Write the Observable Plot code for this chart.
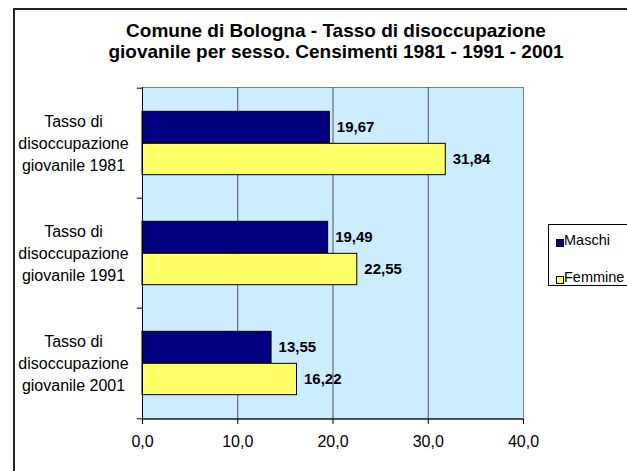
<!DOCTYPE html>
<html>
<head>
<meta charset="utf-8">
<script src="https://cdn.jsdelivr.net/npm/d3@7"></script>
<script src="https://cdn.jsdelivr.net/npm/@observablehq/plot@0.6"></script>
<style>
  html, body { margin: 0; padding: 0; width: 627px; height: 471px; overflow: hidden; background: #fff; font-family: "Liberation Sans", Arial, sans-serif; }
  #frame { position: absolute; left: 13px; top: 8px; width: 700px; height: 600px; border: 2px solid #222; box-sizing: border-box; }
  #title { position: absolute; left: 86px; width: 500px; top: 20px; text-align: center; font-weight: bold; font-size: 19px; line-height: 21px; color: #000; white-space: nowrap; }
  #chart { position: absolute; left: 0; top: 0; }
  #legend { position: absolute; left: 548px; top: 224px; width: 130px; height: 62px; border: 1px solid #000; box-sizing: border-box; background: #fff; font-size: 14.5px; }
  .lab { position: absolute; left: 15px; line-height: 18px; white-space: nowrap; }
  .sw { position: absolute; left: 7px; width: 6px; height: 6px; border: 1px solid #000; }
</style>
</head>
<body>
<div id="frame"></div>
<div id="chart"></div>
<div id="title">Comune di Bologna - Tasso di disoccupazione<br>giovanile per sesso. Censimenti 1981 - 1991 - 2001</div>
<div id="legend"></div>
<script>
const categories = ["Tasso di disoccupazione giovanile 1981", "Tasso di disoccupazione giovanile 1991", "Tasso di disoccupazione giovanile 2001"];
const categoryLines = ["Tasso di\ndisoccupazione\ngiovanile 1981", "Tasso di\ndisoccupazione\ngiovanile 1991", "Tasso di\ndisoccupazione\ngiovanile 2001"];
const series = ["Maschi", "Femmine"];
const maschi = [19.67, 19.49, 13.55];
const femmine = [31.84, 22.55, 16.22];
const xTicks = [0, 10, 20, 30, 40];
const colors = ["#000080", "#FFFF66"];

const fmt = v => v.toFixed(2).replace(".", ",");
const tickFmt = v => v.toFixed(1).replace(".", ",");

const rowsM = categories.map((c, i) => ({cat: c, v: maschi[i]}));
const rowsF = categories.map((c, i) => ({cat: c, v: femmine[i]}));

const width = 627, height = 471;
const mL = 142, mR = 104, mT = 87, mB = 52;
const band = (height - mT - mB) / categories.length;
const barH = 32;
const outer = (band - 2 * barH) / 2;

const chart = Plot.plot({
  width, height,
  marginLeft: mL, marginRight: mR, marginTop: mT, marginBottom: mB,
  style: {background: "none", fontFamily: "'Liberation Sans', Arial, sans-serif", color: "#000"},
  x: {domain: [0, 40], axis: null},
  y: {domain: categories, padding: 0, axis: null},
  marks: [
    Plot.frame({fill: "#CCECFF", stroke: "#808080"}),
    Plot.ruleX(xTicks.slice(1, -1), {stroke: "#555", strokeWidth: 1}),
    Plot.barX(rowsM, {x: "v", y: "cat", fill: colors[0], stroke: "#000", strokeWidth: 1, insetTop: outer, insetBottom: outer + barH}),
    Plot.barX(rowsF, {x: "v", y: "cat", fill: colors[1], stroke: "#000", strokeWidth: 1, insetTop: outer + barH, insetBottom: outer}),
    Plot.text(rowsM, {x: "v", y: "cat", text: d => fmt(d.v), dy: -barH / 2, dx: 7, textAnchor: "start", fontWeight: "bold", fontSize: 15, fill: "#000"}),
    Plot.text(rowsF, {x: "v", y: "cat", text: d => fmt(d.v), dy: barH / 2, dx: 7, textAnchor: "start", fontWeight: "bold", fontSize: 15, fill: "#000"}),
    Plot.ruleX([0], {stroke: "#000"}),
    Plot.ruleY(categories, {y: d => d, dy: -band / 2, x1: -0.55, x2: 0, stroke: "#000"}),
    Plot.ruleY(categories.slice(-1), {y: d => d, dy: band / 2, x1: -0.55, x2: 0, stroke: "#000"}),
    Plot.ruleY(categories.slice(-1), {y: d => d, dy: band / 2, x1: 0, x2: 40, stroke: "#000"}),
    Plot.axisX({ticks: xTicks, tickFormat: tickFmt, tickSize: 5, tickPadding: 11, fontSize: 16, stroke: "#000", fill: "#000", label: null}),
    Plot.text(categories, {y: d => d, frameAnchor: "left", dx: -69, dy: -2, text: (d, i) => categoryLines[i], textAnchor: "middle", lineHeight: 1.38, fontSize: 16, fill: "#000"})
  ]
});
document.getElementById("chart").appendChild(chart);

const legend = document.getElementById("legend");
series.forEach((s, i) => {
  const off = i * 37;
  const sw = document.createElement("div");
  sw.className = "sw";
  sw.style.top = (14 + off) + "px";
  sw.style.background = colors[i];
  const lab = document.createElement("div");
  lab.className = "lab";
  lab.style.top = (6 + off) + "px";
  lab.textContent = s;
  legend.appendChild(sw);
  legend.appendChild(lab);
});
</script>
</body>
</html>
